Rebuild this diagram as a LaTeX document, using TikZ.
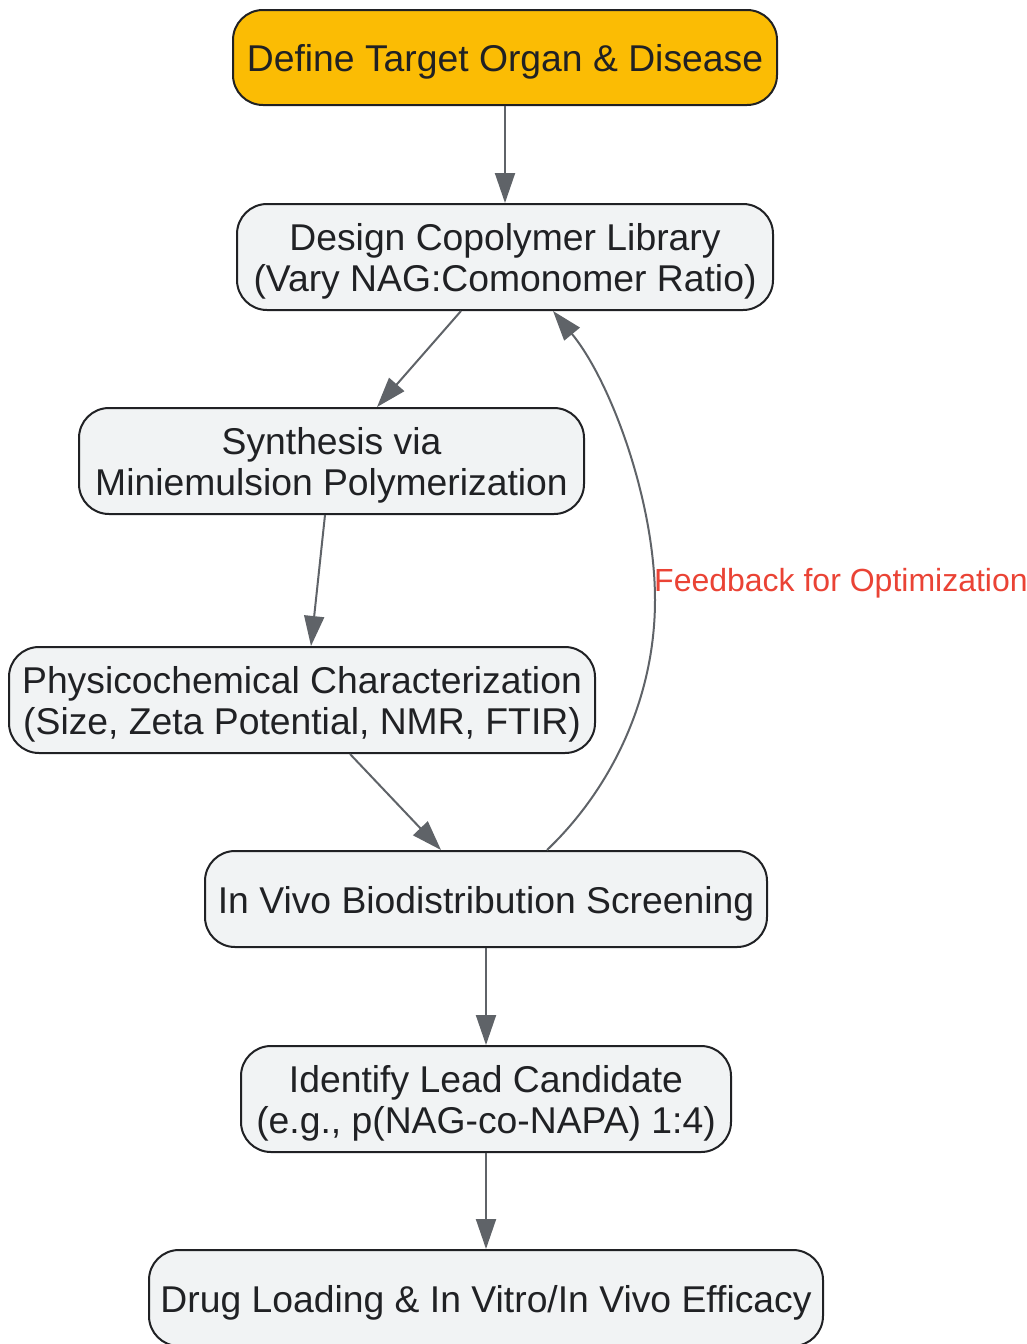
\documentclass[tikz,border=0pt]{standalone}
\usepackage{fontspec}
\setmainfont{Liberation Sans}
\usetikzlibrary{arrows.meta}

\definecolor{inkcol}{HTML}{202124}
\definecolor{stagefill}{HTML}{F1F3F4}
\definecolor{targetfill}{HTML}{FBBC04}
\definecolor{flowcol}{HTML}{5F6368}
\definecolor{feedcol}{HTML}{EA4335}

% extra ascent on the first line
\newcommand{\lift}{\rule{0pt}{36pt}}

\tikzset{
  stage/.style={draw=inkcol, fill=stagefill, line width=2pt, rounded corners=30pt,
    align=center, text=inkcol, inner sep=0pt, minimum height=106pt,
    font=\fontsize{37.3}{41}\selectfont},
  flow/.style={draw=flowcol, line width=2pt, -{Triangle[length=30pt, width=20pt]}},
}

\begin{document}
\begin{tikzpicture}[x=1pt, y=-1pt]
        \useasboundingbox (0, 0) rectangle (1027, 1344);

        \node[stage, fill=targetfill, minimum width=544pt, minimum height=95pt] (target) at (505, 57.5) {\lift Define Target Organ \& Disease};
        \node[stage, minimum width=536pt] (design) at (505, 257) {\lift Design Copolymer Library\\(Vary NAG:Comonomer Ratio)};
        \node[stage, minimum width=505pt] (synth) at (331.5, 461) {\lift Synthesis via\\Miniemulsion Polymerization};
        \node[stage, minimum width=586pt] (charac) at (302, 700) {\lift Physicochemical Characterization\\(Size, Zeta Potential, NMR, FTIR)};
        \node[stage, minimum width=562pt, minimum height=96pt] (screen) at (486, 899) {\lift In Vivo Biodistribution Screening};
        \node[stage, minimum width=490pt] (lead) at (486, 1099) {\lift Identify Lead Candidate\\(e.g., p(NAG-co-NAPA) 1:4)};
        \node[stage, minimum width=674pt, minimum height=96pt] (efficacy) at (486, 1298) {\lift Drug Loading \& In Vitro/In Vivo Efficacy};

        \draw[flow] (target) -- (design);
        \draw[flow] ([xshift=-44pt]design.south) -- ([xshift=45.5pt]synth.north);
        \draw[flow] ([xshift=-6.5pt]synth.south) -- ([xshift=9pt]charac.north);
        \draw[flow] ([xshift=48pt]charac.south) -- ([xshift=-45pt]screen.north);
        \draw[flow] (screen) -- (lead);
        \draw[flow] (lead) -- (efficacy);

        % feedback loop
        \draw[flow] ([xshift=61pt]screen.north) .. controls (610, 790) and (655, 700) .. (655, 600)
            .. controls (655, 500) and (610, 380) .. ([xshift=48pt]design.south);
        \node[text=feedcol, anchor=west, inner sep=0pt, font=\fontsize{32}{38}\selectfont] (fblabel) at (654, 583) {Feedback for Optimization};

    \end{tikzpicture}
\end{document}
